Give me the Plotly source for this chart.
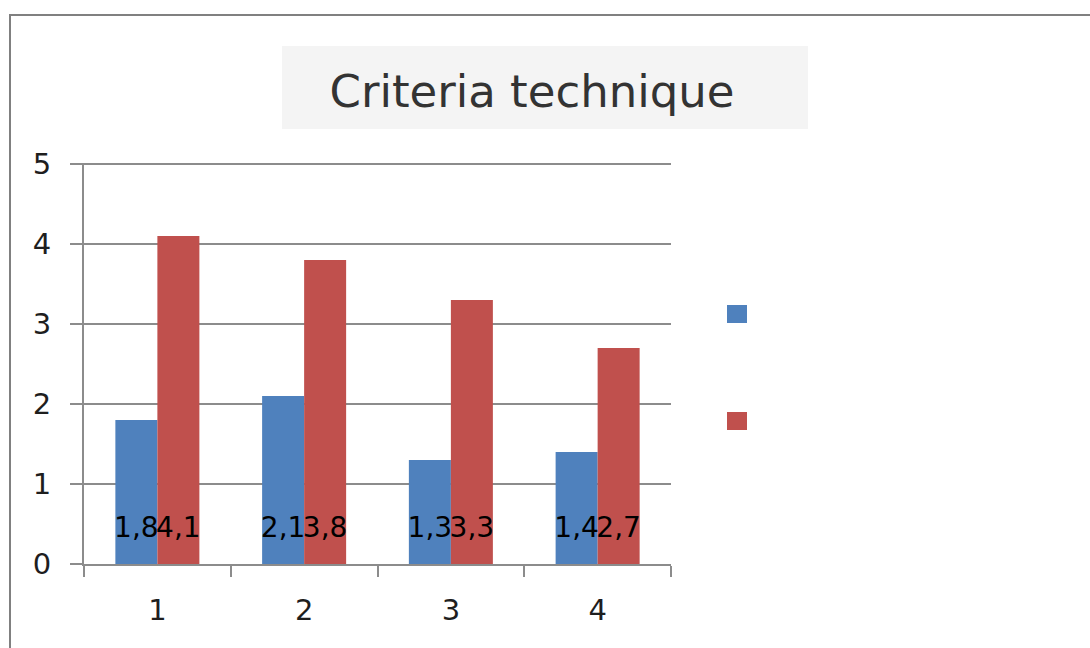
import plotly.graph_objects as go

# Chart data
categories = ["1", "2", "3", "4"]
series_a = [1.8, 2.1, 1.3, 1.4]
series_b = [4.1, 3.8, 3.3, 2.7]
y_ticks = [0, 1, 2, 3, 4, 5]

BLUE = "#4F81BD"
RED = "#C0504D"
GRID = "#8c8c8c"
LABEL_Y = 0.42          # height at which the value labels sit (inside base)
FONT = "DejaVu Sans"


def fmt(v):
    return f"{v:.1f}".replace(".", ",")


fig = go.Figure()
for vals, color, grp in [(series_a, BLUE, "a"), (series_b, RED, "b")]:
    fig.add_trace(go.Bar(
        x=categories, y=vals, marker=dict(color=color, line=dict(width=0)),
        offsetgroup=grp, showlegend=False, hoverinfo="skip",
    ))
# value labels drawn above both bar layers so they may overlap neighbours
for vals, grp in [(series_a, "a"), (series_b, "b")]:
    fig.add_trace(go.Scatter(
        x=categories, y=[LABEL_Y] * len(vals), mode="text",
        text=[fmt(v) for v in vals], textposition="middle center",
        textfont=dict(family=FONT, size=28, color="#000000"),
        offsetgroup=grp, showlegend=False, hoverinfo="skip", cliponaxis=False,
    ))

# plot area occupies x 84..671, y 163..564
L, R, T, B = 84, 1090 - 671, 163, 648 - 564
PW, PH = 1090 - L - R, 648 - T - B


def px(x):
    return (x - L) / PW


def py(y):
    return (648 - B - y) / PH


shapes = [
    # outer frame
    dict(type="rect", xref="paper", yref="paper",
         x0=px(10), x1=px(1110), y0=py(670), y1=py(15),
         line=dict(color="#808080", width=2), fillcolor="rgba(0,0,0,0)", layer="below"),
    # title panel
    dict(type="rect", xref="paper", yref="paper",
         x0=px(282), x1=px(808), y0=py(129), y1=py(46),
         line=dict(width=0), fillcolor="#f4f4f4", layer="below"),
    # top gridline (plotly drops the gridline at the very edge of the range)
    dict(type="line", xref="paper", yref="y",
         x0=0, x1=1, y0=y_ticks[-1], y1=y_ticks[-1],
         line=dict(color=GRID, width=2), layer="below"),
    # legend keys
    dict(type="rect", xref="paper", yref="paper",
         x0=px(727), x1=px(747), y0=py(323), y1=py(305),
         line=dict(width=0), fillcolor=BLUE),
    dict(type="rect", xref="paper", yref="paper",
         x0=px(727), x1=px(747), y0=py(430), y1=py(412),
         line=dict(width=0), fillcolor=RED),
]

fig.update_layout(
    width=1090, height=648,
    margin=dict(l=L, r=R, t=T, b=B, pad=0),
    paper_bgcolor="white", plot_bgcolor="white",
    barmode="group", bargap=0.4275, bargroupgap=0,
    scattermode="group",
    showlegend=False,
    shapes=shapes,
    title=dict(text="Criteria technique", x=532 / 1090, y=1 - 91 / 648,
               xanchor="center", yanchor="middle",
               font=dict(family=FONT, size=45, color="#333333")),
    xaxis=dict(
        type="category", showgrid=False, showline=True, linecolor=GRID, linewidth=2,
        ticks="outside", tickson="boundaries", ticklen=11, tickcolor=GRID, tickwidth=2,
        tickfont=dict(family=FONT, size=29, color="#1e1e1e"), ticklabelstandoff=19,
        zeroline=False,
    ),
    yaxis=dict(
        # a hair of headroom so the full width of the top gridline shows
        range=[0, 5.012], tickvals=y_ticks, showgrid=True, gridcolor=GRID, gridwidth=2,
        showline=True, linecolor=GRID, linewidth=2,
        ticks="outside", ticklen=12, tickcolor=GRID, tickwidth=2,
        tickfont=dict(family=FONT, size=29, color="#1e1e1e"), ticklabelstandoff=13,
        zeroline=False,
    ),
)

fig.write_html("out.html")
